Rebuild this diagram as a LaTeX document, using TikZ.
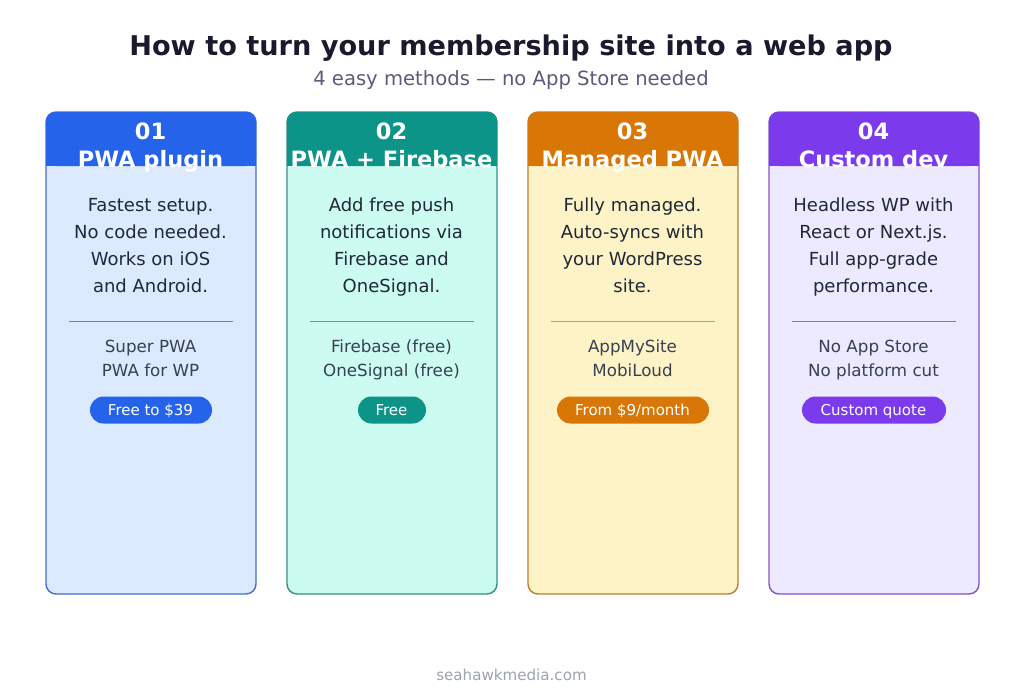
\documentclass[tikz,border=0pt]{standalone}
\usepackage{fontspec}
\setmainfont{DejaVu Sans}

\definecolor{bluedark}{HTML}{2563EB}
\definecolor{bluelight}{HTML}{DBEAFE}
\definecolor{tealdark}{HTML}{0D9488}
\definecolor{teallight}{HTML}{CCFBF1}
\definecolor{orangedark}{HTML}{D97706}
\definecolor{orangelight}{HTML}{FEF3C7}
\definecolor{purpledark}{HTML}{7C3AED}
\definecolor{purplelight}{HTML}{EDE9FE}
\definecolor{titletext}{HTML}{1A1A2E}
\definecolor{subtext}{HTML}{5A5A7A}
\definecolor{bodytext}{HTML}{1F2937}
\definecolor{tooltext}{HTML}{374151}
\definecolor{foottext}{HTML}{9CA3AF}

\tikzstyle{card}=[rectangle,rounded corners=10,minimum width=210,minimum height=482,line width=1.4,inner sep=0]
\tikzstyle{head}=[text=white,font=\fontsize{22.5}{28}\selectfont\bfseries,align=center,anchor=base]
\tikzstyle{desc}=[text=bodytext,font=\fontsize{18}{27}\selectfont,align=center,anchor=base]
\tikzstyle{tool}=[text=tooltext,font=\fontsize{16.7}{24}\selectfont,align=center,anchor=base]
\tikzstyle{pill}=[rectangle,rounded corners=13.5,minimum height=27,inner sep=0]
\tikzstyle{pilltext}=[text=white,font=\fontsize{15}{17}\selectfont,anchor=base,inner sep=0]
\tikzstyle{sepline}=[line width=1.2,opacity=0.75]

\begin{document}
\begin{tikzpicture}[x=1pt,y=-1pt]

  \useasboundingbox (0,0) rectangle (1024,693);

  \node at (511,56) (title) [anchor=base,text=titletext,font=\fontsize{27.15}{34}\selectfont\bfseries] {How to turn your membership site into a web app};
  \node at (511,85) (subtitle) [anchor=base,text=subtext,font=\fontsize{19.6}{24}\selectfont] {4 easy methods — no App Store needed};

  % card 1
  \node[card,fill=bluelight,draw=bluedark!80!black!80!bluelight] at (151,353) (c1) {};
  \fill[bluedark,rounded corners=10] (46,166) -- (46,112) -- (256,112) -- (256,166) -- cycle;
  \fill[bluedark] (46,156) rectangle (256,166);
  \node[head] at (150.5,167.3) (h1) {01\\PWA plugin};
  \node[desc] at (150.5,292.7) (d1) {Fastest setup.\\No code needed.\\Works on iOS\\and Android.};
  \coordinate (l1) at (69,321.5);
  \coordinate (r1) at (233,321.5);
  \draw[sepline,draw=bluedark] (l1) -- (r1);
  \node[tool] at (150.5,376) (t1) {Super PWA\\PWA for WP};
  \node[pill,fill=bluedark,minimum width=122] at (151,410) (p1) {};
  \node[pilltext] at (150.5,415.5) (q1) {Free to \$39};

  % card 2
  \node[card,fill=teallight,draw=tealdark!80!black!80!teallight] at (392,353) (c2) {};
  \fill[tealdark,rounded corners=10] (287,166) -- (287,112) -- (497,112) -- (497,166) -- cycle;
  \fill[tealdark] (287,156) rectangle (497,166);
  \node[head] at (391.5,167.3) (h2) {02\\PWA + Firebase};
  \node[desc] at (391.5,292.7) (d2) {Add free push\\notifications via\\Firebase and\\OneSignal.};
  \coordinate (l2) at (310,321.5);
  \coordinate (r2) at (474,321.5);
  \draw[sepline,draw=tealdark] (l2) -- (r2);
  \node[tool] at (391.5,376) (t2) {Firebase (free)\\OneSignal (free)};
  \node[pill,fill=tealdark,minimum width=68] at (392,410) (p2) {};
  \node[pilltext] at (391.5,415.5) (q2) {Free};

  % card 3
  \node[card,fill=orangelight,draw=orangedark!80!black!80!orangelight] at (633,353) (c3) {};
  \fill[orangedark,rounded corners=10] (528,166) -- (528,112) -- (738,112) -- (738,166) -- cycle;
  \fill[orangedark] (528,156) rectangle (738,166);
  \node[head] at (632.5,167.3) (h3) {03\\Managed PWA};
  \node[desc] at (632.5,292.7) (d3) {Fully managed.\\Auto-syncs with\\your WordPress\\site.};
  \coordinate (l3) at (551,321.5);
  \coordinate (r3) at (715,321.5);
  \draw[sepline,draw=orangedark] (l3) -- (r3);
  \node[tool] at (632.5,376) (t3) {AppMySite\\MobiLoud};
  \node[pill,fill=orangedark,minimum width=152] at (633,410) (p3) {};
  \node[pilltext] at (632.5,415.5) (q3) {From \$9/month};

  % card 4
  \node[card,fill=purplelight,draw=purpledark!80!black!80!purplelight] at (874,353) (c4) {};
  \fill[purpledark,rounded corners=10] (769,166) -- (769,112) -- (979,112) -- (979,166) -- cycle;
  \fill[purpledark] (769,156) rectangle (979,166);
  \node[head] at (873.5,167.3) (h4) {04\\Custom dev};
  \node[desc] at (873.5,292.7) (d4) {Headless WP with\\React or Next.js.\\Full app-grade\\performance.};
  \coordinate (l4) at (792,321.5);
  \coordinate (r4) at (956,321.5);
  \draw[sepline,draw=purpledark] (l4) -- (r4);
  \node[tool] at (873.5,376) (t4) {No App Store\\No platform cut};
  \node[pill,fill=purpledark,minimum width=144] at (874,410) (p4) {};
  \node[pilltext] at (873.5,415.5) (q4) {Custom quote};

  \node at (511.5,680) (foot) [anchor=base,text=foottext,font=\fontsize{15.1}{17}\selectfont] {seahawkmedia.com};

\end{tikzpicture}
\end{document}
